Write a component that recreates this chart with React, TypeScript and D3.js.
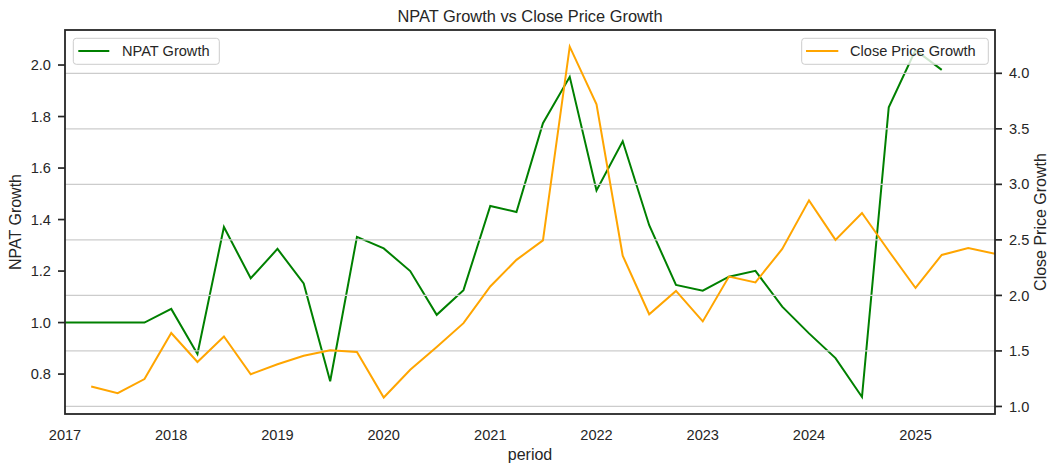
import { useEffect } from "react"
import * as d3 from "d3"

// quarterly periods
const periods = [
  "2017-01-01", "2017-04-01", "2017-07-01", "2017-10-01",
  "2018-01-01", "2018-04-01", "2018-07-01", "2018-10-01",
  "2019-01-01", "2019-04-01", "2019-07-01", "2019-10-01",
  "2020-01-01", "2020-04-01", "2020-07-01", "2020-10-01",
  "2021-01-01", "2021-04-01", "2021-07-01", "2021-10-01",
  "2022-01-01", "2022-04-01", "2022-07-01", "2022-10-01",
  "2023-01-01", "2023-04-01", "2023-07-01", "2023-10-01",
  "2024-01-01", "2024-04-01", "2024-07-01", "2024-10-01",
  "2025-01-01", "2025-04-01", "2025-07-01", "2025-10-01",
]

const npatGrowth: (number | null)[] = [
  1.0, 1.0, 1.0, 1.0,
  1.053, 0.878, 1.371, 1.172,
  1.286, 1.152, 0.772, 1.333,
  1.288, 1.2, 1.03, 1.126,
  1.453, 1.429, 1.774, 1.954,
  1.513, 1.704, 1.378, 1.146,
  1.124, 1.178, 1.201, 1.062,
  0.958, 0.862, 0.711, 1.836,
  2.058, 1.981, null, null,
]

const closePriceGrowth: (number | null)[] = [
  null, 1.18, 1.12, 1.247,
  1.661, 1.4, 1.63, 1.29,
  1.38, 1.457, 1.505, 1.49,
  1.08, 1.33, 1.535, 1.75,
  2.08, 2.32, 2.496, 4.24,
  3.72, 2.357, 1.83, 2.04,
  1.766, 2.17, 2.117, 2.418,
  2.856, 2.5, 2.742, 2.4,
  2.067, 2.364, 2.427, 2.376,
]

const yearTicks = [2017, 2018, 2019, 2020, 2021, 2022, 2023, 2024, 2025]
const leftTicks = [0.8, 1.0, 1.2, 1.4, 1.6, 1.8, 2.0]
const rightTicks = [1.0, 1.5, 2.0, 2.5, 3.0, 3.5, 4.0]

const W = 1060
const H = 473
const m = { left: 65, right: 995, top: 30, bottom: 414 }
const FONT = "'Liberation Sans', Arial, sans-serif"
const INK = "#262626"

export default function App() {
  useEffect(() => {
    document.body.style.margin = "0"
  }, [])

  const parse = d3.timeParse("%Y-%m-%d")
  const dates = periods.map((p) => parse(p) as Date)

  const x = d3
    .scaleTime()
    .domain([new Date(2017, 0, 1), new Date(2025, 9, 1)])
    .range([m.left, m.right])
  const yL = d3.scaleLinear().domain([0.645, 2.136]).range([m.bottom, m.top])
  const yR = d3.scaleLinear().domain([0.932, 4.39]).range([m.bottom, m.top])

  const lineL = d3
    .line<number | null>()
    .defined((d) => d != null)
    .x((_, i) => x(dates[i]))
    .y((d) => yL(d as number))
  const lineR = d3
    .line<number | null>()
    .defined((d) => d != null)
    .x((_, i) => x(dates[i]))
    .y((d) => yR(d as number))

  return (
    <svg width={W} height={H} style={{ display: "block", background: "#fff" }} fontFamily={FONT}>
      <defs>
        <clipPath id="plot">
          <rect x={m.left} y={m.top} width={m.right - m.left} height={m.bottom - m.top} />
        </clipPath>
      </defs>

      {/* primary axes: NPAT */}
      <path d={lineL(npatGrowth) ?? ""} fill="none" stroke="#008000" strokeWidth={2} clipPath="url(#plot)" />
      <g>
        <rect x={73.3} y={38.3} width={146} height={26} rx={3} fill="#fff" fillOpacity={0.8} stroke="#cccccc" strokeWidth={1} />
        <line x1={78.3} x2={109.3} y1={51} y2={51} stroke="#008000" strokeWidth={2} />
        <text x={122} y={56} fontSize={14.6} fill={INK}>NPAT Growth</text>
      </g>

      {/* twin axes: Close Price, with grid */}
      <g>
        {rightTicks.map((t) => (
          <line key={t} x1={m.left} x2={m.right} y1={yR(t)} y2={yR(t)} stroke="#cccccc" strokeWidth={1.3} />
        ))}
      </g>
      <path d={lineR(closePriceGrowth) ?? ""} fill="none" stroke="#ffa500" strokeWidth={2} clipPath="url(#plot)" />
      <g>
        <rect x={801.7} y={38.3} width={186.6} height={26} rx={3} fill="#fff" fillOpacity={0.8} stroke="#cccccc" strokeWidth={1} />
        <line x1={806} x2={838.3} y1={51} y2={51} stroke="#ffa500" strokeWidth={2} />
        <text x={850} y={56} fontSize={14.6} fill={INK}>Close Price Growth</text>
      </g>

      {/* spines */}
      <rect x={m.left} y={m.top} width={m.right - m.left} height={m.bottom - m.top} fill="none" stroke={INK} strokeWidth={1.8} />

      {/* left axis */}
      <g fill={INK} fontSize={14.6}>
        {leftTicks.map((t) => (
          <g key={t}>
            <line x1={m.left - 7} x2={m.left} y1={yL(t)} y2={yL(t)} stroke={INK} strokeWidth={1.7} />
            <text x={m.left - 14} y={yL(t)} dy="0.35em" textAnchor="end">{t.toFixed(1)}</text>
          </g>
        ))}
      </g>

      {/* right axis */}
      <g fill={INK} fontSize={14.6}>
        {rightTicks.map((t) => (
          <g key={t}>
            <line x1={m.right} x2={m.right + 7} y1={yR(t)} y2={yR(t)} stroke={INK} strokeWidth={1.7} />
            <text x={m.right + 14} y={yR(t)} dy="0.35em">{t.toFixed(1)}</text>
          </g>
        ))}
      </g>

      {/* bottom axis */}
      <g fill={INK} fontSize={14.6}>
        {yearTicks.map((yr) => (
          <text key={yr} x={x(new Date(yr, 0, 1))} y={440} textAnchor="middle">{yr}</text>
        ))}
      </g>

      <text x={(m.left + m.right) / 2} y={21.5} textAnchor="middle" fontSize={16.4} fill={INK}>
        NPAT Growth vs Close Price Growth
      </text>
      <text x={(m.left + m.right) / 2} y={460} textAnchor="middle" fontSize={16} fill={INK}>
        period
      </text>
      <text transform={`translate(21,${(m.top + m.bottom) / 2}) rotate(-90)`} textAnchor="middle" fontSize={16} fill={INK}>
        NPAT Growth
      </text>
      <text transform={`translate(1046,${(m.top + m.bottom) / 2}) rotate(-90)`} textAnchor="middle" fontSize={16} fill={INK}>
        Close Price Growth
      </text>
    </svg>
  )
}
